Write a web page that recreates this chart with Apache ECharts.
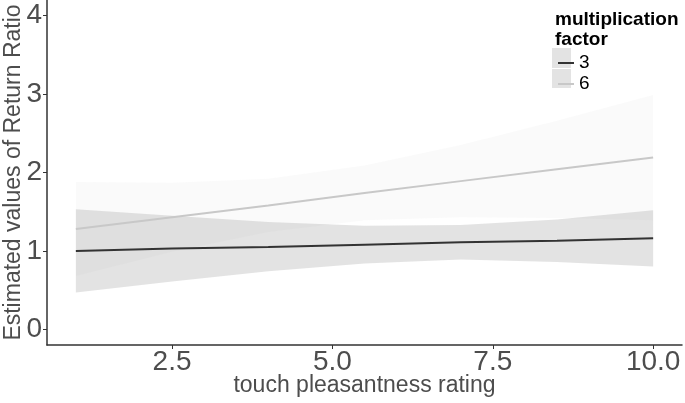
<!DOCTYPE html>
<html>
<head>
<meta charset="utf-8">
<script src="https://cdn.jsdelivr.net/npm/echarts@6/dist/echarts.min.js"></script>
<style>html,body{margin:0;padding:0;background:#fff}#c{width:685px;height:403px}</style>
</head>
<body>
<div id="c"></div>
<script>
// ---- data ----
const xs = [1, 2.5, 4, 5.5, 7, 8.5, 10];
const fit3 = [1.00, 1.03, 1.05, 1.08, 1.11, 1.13, 1.16];
const upper3 = [1.53, 1.45, 1.37, 1.32, 1.33, 1.40, 1.52];
const lower3 = [0.47, 0.61, 0.74, 0.84, 0.89, 0.86, 0.80];
const fit6 = [1.28, 1.43, 1.58, 1.74, 1.89, 2.04, 2.19];
const upper6 = [1.88, 1.87, 1.92, 2.09, 2.35, 2.66, 2.99];
const lower6 = [0.68, 0.99, 1.24, 1.39, 1.43, 1.42, 1.39];
const xTicks = [2.5, 5.0, 7.5, 10.0];
const yTicks = [0, 1, 2, 3, 4];
const groups = ['3', '6'];

const pairs = (a) => xs.map((x, i) => [x, a[i]]);

function bandSeries(up, lo, color) {
  return {
    type: 'custom',
    silent: true,
    data: [0],
    renderItem: function (params, api) {
      const pts = [];
      for (let i = 0; i < xs.length; i++) pts.push(api.coord([xs[i], up[i]]));
      for (let i = xs.length - 1; i >= 0; i--) pts.push(api.coord([xs[i], lo[i]]));
      return { type: 'polygon', shape: { points: pts }, style: { fill: color } };
    },
    clip: true,
    z: 1
  };
}

const chart = echarts.init(document.getElementById('c'), null, { renderer: 'canvas' });
chart.setOption({
  animation: false,
  backgroundColor: '#ffffff',
  grid: { left: 47, right: 3, top: 0, bottom: 58, containLabel: false, outerBoundsMode: 'none' },
  title: {
    text: 'multiplication\nfactor',
    left: 550, top: 5,
    textStyle: { fontFamily: 'Liberation Sans', fontSize: 19, fontWeight: 'bold', lineHeight: 20, color: '#000' }
  },
  legend: {
    data: groups,
    orient: 'vertical',
    left: 553, top: 48,
    itemWidth: 16, itemHeight: 2, itemGap: 1,
    icon: 'rect',
    textStyle: { fontFamily: 'Liberation Sans', fontSize: 19, color: '#000', lineHeight: 20 },
    selectedMode: false
  },
  graphic: [
    { type: 'rect', left: 552, top: 48, shape: { width: 19, height: 20 }, style: { fill: '#e3e3e3' }, z: -1 },
    { type: 'rect', left: 552, top: 69, shape: { width: 19, height: 19 }, style: { fill: '#e3e3e3' }, z: -1 }
  ],
  xAxis: {
    type: 'value', min: 0.55, max: 10.45,
    name: 'touch pleasantness rating', nameLocation: 'middle', nameGap: 29, nameMoveOverlap: false,
    nameTextStyle: { fontFamily: 'Liberation Sans', fontSize: 23, color: '#4d4d4d' },
    axisLine: { show: true, onZero: false, lineStyle: { color: '#333', width: 1.5 } },
    axisTick: { show: true, length: 4, lineStyle: { color: '#333' }, customValues: xTicks },
    axisLabel: { customValues: xTicks, margin: 3, fontFamily: 'Liberation Sans', fontSize: 28, color: '#4d4d4d',
      formatter: (v) => v.toFixed(1) },
    splitLine: { show: false }
  },
  yAxis: {
    type: 'value', min: -0.2, max: 4.2,
    name: 'Estimated values of Return Ratio', nameLocation: 'middle', nameGap: 22, nameRotate: 90, nameMoveOverlap: false,
    nameTextStyle: { fontFamily: 'Liberation Sans', fontSize: 23, color: '#4d4d4d' },
    axisLine: { show: true, onZero: false, lineStyle: { color: '#333', width: 1.5 } },
    axisTick: { show: true, length: 4, lineStyle: { color: '#333' }, customValues: yTicks },
    axisLabel: { customValues: yTicks, margin: 5, fontFamily: 'Liberation Sans', fontSize: 28, color: '#4d4d4d' },
    splitLine: { show: false }
  },
  series: [
    bandSeries(upper6, lower6, 'rgba(153,153,153,0.05)'),
    bandSeries(upper3, lower3, 'rgba(153,153,153,0.27)'),
    { name: '3', type: 'line', data: pairs(fit3), showSymbol: false, symbol: 'none',
      lineStyle: { color: '#333333', width: 2 }, itemStyle: { color: '#333333' }, z: 3 },
    { name: '6', type: 'line', data: pairs(fit6), showSymbol: false, symbol: 'none',
      lineStyle: { color: '#c8c8c8', width: 2 }, itemStyle: { color: '#c8c8c8' }, z: 3 }
  ]
});
</script>
</body>
</html>
